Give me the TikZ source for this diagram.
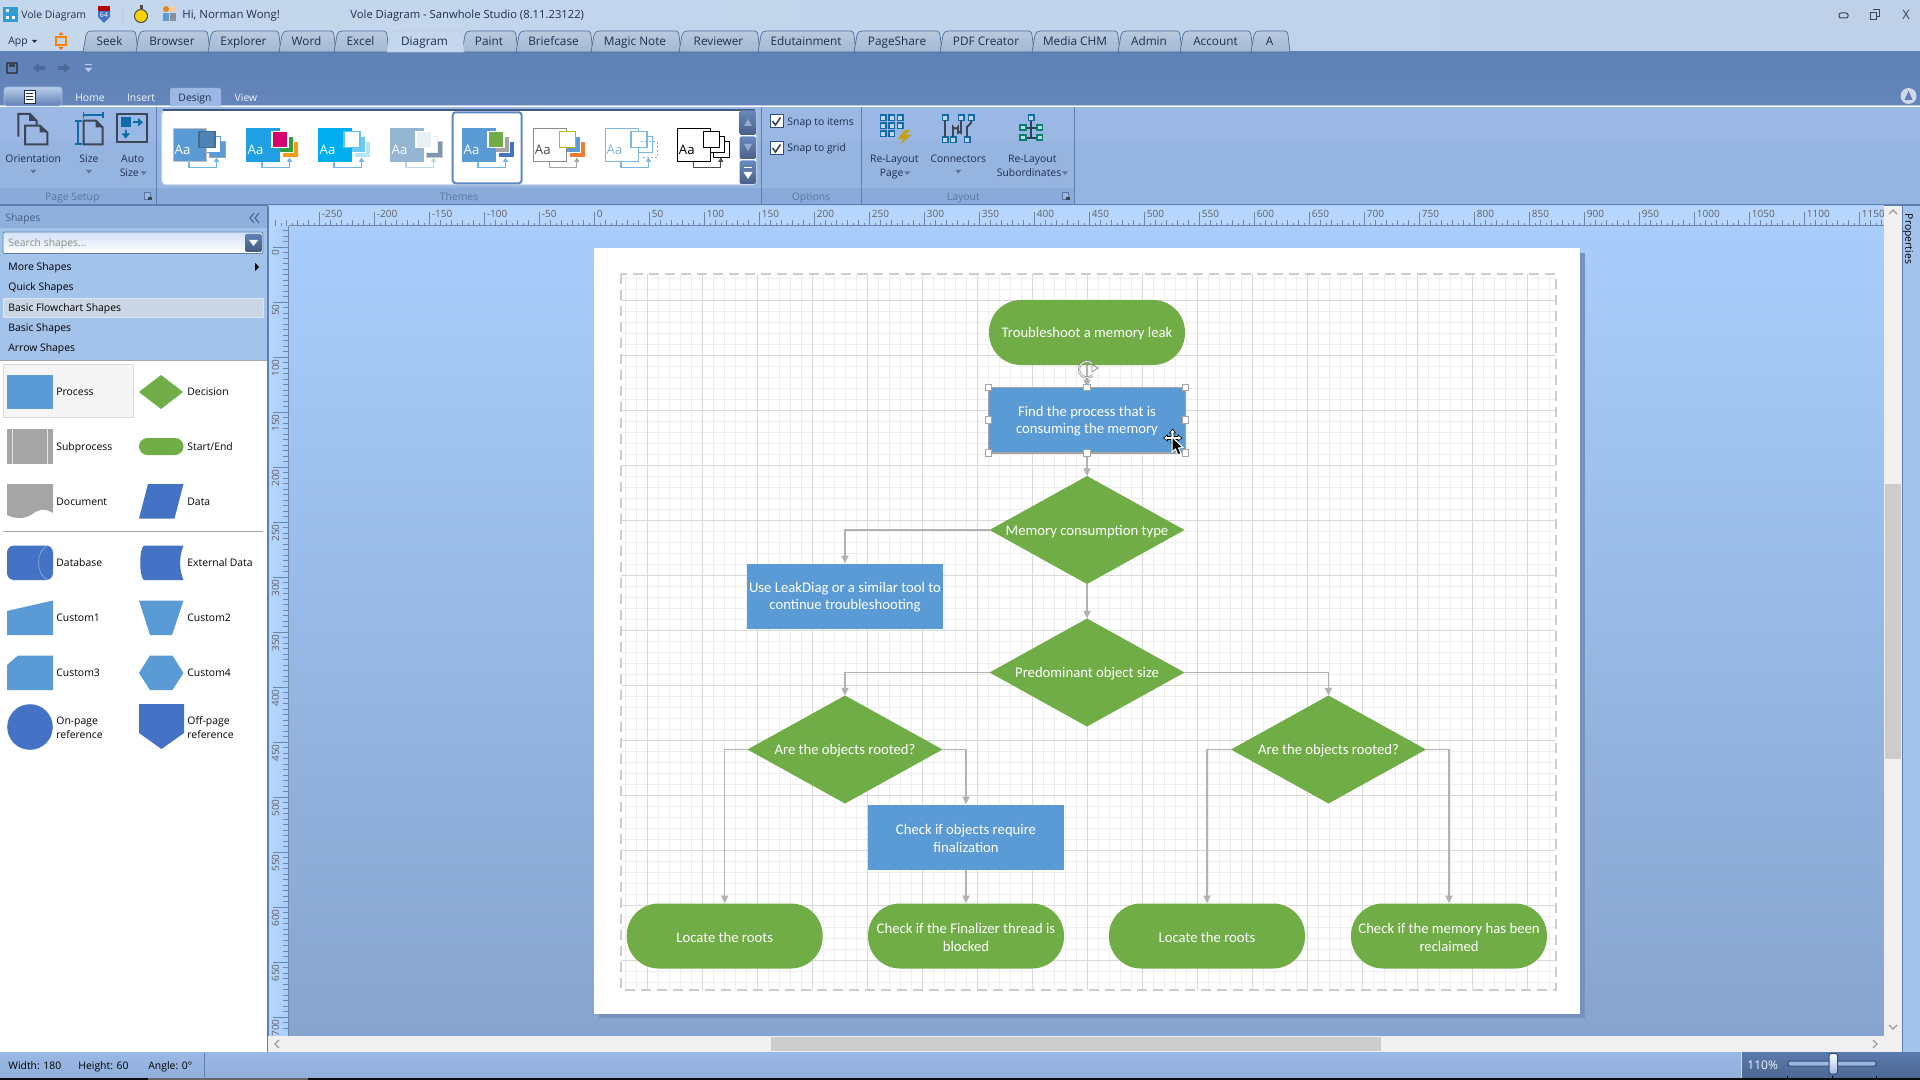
\documentclass[tikz,border=0pt]{standalone}
\usepackage{fontspec}
\setmainfont{Open Sans}
\newfontfamily\canvasfont{Carlito}
\usetikzlibrary{arrows.meta,calc}
\definecolor{cproc}{HTML}{5B9BD5}
\definecolor{cgreen}{HTML}{70AD47}
\definecolor{cgray}{HTML}{A5A5A5}
\definecolor{cdblue}{HTML}{4472C4}
\definecolor{cband}{HTML}{5F81B6}
\definecolor{crib}{HTML}{9AB8E3}
\definecolor{cribl}{HTML}{8FAFDD}
\definecolor{cpanel}{HTML}{A3C3EB}
\definecolor{cnavy}{HTML}{1F2F50}
\definecolor{clabel}{HTML}{5A76A0}
\definecolor{cline}{HTML}{5E7FB2}
\definecolor{cicon}{HTML}{3C4656}
\definecolor{cicblue}{HTML}{0F6CA8}
\definecolor{cicteal}{HTML}{0B7F6E}
\definecolor{ctab}{HTML}{A2B8D4}
\definecolor{ctitlel}{HTML}{C5D7ED}
\definecolor{ctitler}{HTML}{BED1E9}
\definecolor{ccanvt}{HTML}{AACEFC}
\definecolor{ccanvb}{HTML}{86A4CE}
\definecolor{crulb}{HTML}{B6D6FE}
\definecolor{crult}{HTML}{6F86A8}
\tikzset{
  uilabel/.style={inner sep=0pt,text=cnavy,font=\fontsize{5.2}{6.2}\selectfont,text height=4.4pt,text depth=0.8pt},
  uileft/.style={uilabel,anchor=west},
  tablabel/.style={inner sep=0pt,text=cnavy,font=\fontsize{5.9}{7}\selectfont,text height=4.7pt,text depth=1.1pt},
  grouplabel/.style={inner sep=0pt,text=clabel,font=\fontsize{5.2}{6.2}\selectfont,text height=4.4pt,text depth=0.8pt},
  shapelabel/.style={inner sep=0pt,anchor=west,text=black,font=\fontsize{5.2}{6.8}\selectfont,text height=4.4pt,text depth=0.8pt},
  shapetwo/.style={inner sep=0pt,anchor=west,align=left,text=black,font=\fontsize{5.2}{6.8}\selectfont},
  flowtext/.style={inner sep=0pt,minimum width=98pt,minimum height=32.5pt},
  termbox/.style={flowtext,fill=cgreen,rounded corners=16pt},
  procbox/.style={flowtext,fill=cproc},
  fltext/.style={text=white,font=\canvasfont\fontsize{7.35}{8.85}\selectfont,align=center,inner sep=0pt},
  flowline/.style={draw=black!30,line width=0.6pt,-{Triangle[length=3.8pt,width=3.6pt]}},
  handle/.style={draw=cgray,fill=white,line width=0.4pt,minimum size=3.2pt,inner sep=0pt},
  minorgrid/.style={draw=black!6.5,line width=0.5pt},
  majorgrid/.style={draw=black!15,line width=0.5pt},
  rulertick/.style={draw=crult,line width=0.4pt},
  rulertext/.style={inner sep=0pt,text=black!62,font=\fontsize{5}{6}\selectfont},
  tabshape/.style={draw=black!15!cline,line width=0.35pt,top color=ctab!75!white,bottom color=ctab},
}
\newcommand\decisionpath[3]{% name, cx, cy
  \fill[cgreen] (#2-97.5,#3) -- (#2,#3-54) -- (#2+97.5,#3) -- (#2,#3+54) -- cycle;
}
\newcommand\flownode[5]{% style,name,x,y,text
  \node[#1] (#2) at (#3,#4) {};
  \node[fltext] (#2t) at ([yshift=-0.6pt]#2.center) {#5};
}
\newcommand\themeicon[9]{%
  \draw[fill=#7,draw=#8,line width=0.5pt] (36,142) rectangle (52,157.7);
  \draw[fill=#5,draw=#6,line width=0.5pt] (30,137) rectangle (47,152.7);
  \draw[#9,line width=0.6pt] (16,162) -- (16,167.5) -- (43.5,167.5) -- (43.5,161);
  \fill[#9] (43.5,157.5) -- (40.8,162) -- (46.2,162) -- cycle;
  \draw[fill=#1,draw=#2,line width=0.6pt] (0.3,128.3) rectangle (33.5,161.7);
  \draw[fill=#3,draw=#4,line width=0.6pt] (26,131.7) rectangle (42,147.7);
  \node[inner sep=0pt,text=\aac,font=\fontsize{6.6}{8}\selectfont,text height=4.7pt,text depth=0pt] at (9.5,150) {Aa};
}
\newcommand\tabitem[4]{% name,x0,x1,text
  \draw[tabshape] (#2,52) -- (#2+3,35) to[out=80,in=180] (#2+8,31) -- (#3-3,31) to[out=0,in=100] (#3,35) -- (#3+2,52) -- cycle;
  \node[tablabel] (#1) at ({(#2+#3)/2},41.5) {#4};
}
\begin{document}
\begin{tikzpicture}[x=0.5pt,y=-0.5pt]
\useasboundingbox (0,0) rectangle (1920,1080);
% ---- window chrome
\shade[left color=ctitlel,right color=ctitler] (0,0) rectangle (1920,52);
\shade[top color=cband,bottom color=cband!92!crib] (0,52) rectangle (1920,106);
\draw[white!60!cband,line width=0.5pt] (0,106) -- (1920,106);
\fill[crib] (0,107) rectangle (1920,141);
\fill[crib!92!cline] (0,141) rectangle (1920,205);
\fill[cribl!90!cline] (0,188.3) rectangle (1074.5,205);
\draw[cline,line width=0.6pt] (0,205) -- (1920,205);
% title row
\fill[cdblue!70!cyan] (3,7) rectangle (18,22);
\fill[white] (6,9) rectangle (9,12); \fill[white] (12,16) rectangle (15,19); \fill[white] (6,16) rectangle (9,19);
\node[uileft] (appname) at (21,15) {Vole Diagram};
\fill[red!70!black] (98,6) rectangle (110,11);
\fill[cdblue] (98,11) -- (110,11) -- (110,17) -- (104,23) -- (98,17) -- cycle;
\node[inner sep=0pt,text=white,font=\fontsize{3.5}{4}\selectfont] (sh64) at (104,15) {64};
\draw[white!60!cline,line width=0.5pt] (122,5) -- (122,26);
\draw[black!70,fill=yellow!70!orange,line width=0.5pt] (141,16) circle (6.5);
\fill[black!70] (139.5,5) rectangle (142.5,9);
\fill[orange!70!brown] (166,9) circle (3); \fill[cproc] (163,13) rectangle (169,21);
\fill[orange!40!white] (173,9) circle (3); \fill[cicon!60!white] (170,13) rectangle (176,21);
\node[uileft,font=\fontsize{5.7}{7}\selectfont] (greet) at (182,14.5) {Hi, Norman Wong!};
\node[uileft,font=\fontsize{5.62}{7}\selectfont] (title) at (350,14.5) {Vole Diagram - Sanwhole Studio (8.11.23122)};
\draw[cicon,line width=0.5pt,rounded corners=1pt] (1839,13) rectangle (1848,18);
\draw[cicon,line width=0.5pt] (1870,13) rectangle (1876,20); \draw[cicon,line width=0.5pt] (1873,10) -- (1879,10) -- (1879,17) -- (1876,17);
\node[inner sep=0pt,text=cicon,font=\fontsize{6.5}{7}\selectfont] (closex) at (1906,15) {X};
% tabs
\node[uileft] (appbtn) at (8,41) {App};
\fill[cnavy] (32,40) -- (37,40) -- (34.5,43) -- cycle;
\draw[orange,line width=0.7pt] (56,37) rectangle (66,45);
\fill[orange!80!red] (61,32) -- (58.5,35) -- (63.5,35) -- cycle;
\fill[orange!80!red] (61,50) -- (58.5,47) -- (63.5,47) -- cycle;
\tabitem{t1}{83}{136}{Seek}
\tabitem{t2}{136}{208}{Browser}
\tabitem{t3}{208}{279}{Explorer}
\tabitem{t4}{279}{334}{Word}
\tabitem{t5}{334}{387}{Excel}
\tabitem{t7}{462}{516}{Paint}
\tabitem{t8}{516}{591}{Briefcase}
\tabitem{t9}{591}{679}{Magic Note}
\tabitem{t10}{679}{758}{Reviewer}
\tabitem{t11}{758}{854}{Edutainment}
\tabitem{t12}{854}{940}{PageShare}
\tabitem{t13}{940}{1032}{PDF Creator}
\tabitem{t14}{1032}{1118}{Media CHM}
\tabitem{t15}{1118}{1180}{Admin}
\tabitem{t16}{1180}{1251}{Account}
\tabitem{t17}{1251}{1288}{A}
\begin{scope}[tabshape/.style={draw=white!60!cline,line width=0.35pt,fill=ctitlel}]
\tabitem{t6}{387}{462}{Diagram}
\end{scope}
% quick access
\draw[cicon,line width=0.8pt] (7,63) rectangle (17,73); \fill[cicon] (9,63) rectangle (15,67);
\fill[cband!70!cnavy] (33,68) -- (39,63) -- (39,66) -- (45,66) -- (45,70) -- (39,70) -- (39,73) -- cycle;
\fill[cband!70!cnavy] (70,68) -- (64,63) -- (64,66) -- (58,66) -- (58,70) -- (64,70) -- (64,73) -- cycle;
\draw[crib!70!white,line width=0.5pt] (85,65) -- (92,65); \fill[crib!70!white] (85,68) -- (92,68) -- (88.5,72) -- cycle;
% ribbon tabs
\shade[top color=crib!70!white,bottom color=cband,rounded corners=1.5pt,draw=crib] (4,87) rectangle (62,106);
\draw[cnavy,fill=white,line width=0.4pt] (24,90) rectangle (35,103);
\draw[cnavy,line width=0.4pt] (26,93) -- (33,93) (26,96) -- (33,96) (26,99) -- (33,99);
\node[uilabel,text=white!85!crib] (rhome) at (90,97.5) {Home};
\node[uilabel,text=white!85!crib] (rinsert) at (141,97.5) {Insert};
\fill[crib] (170,106.5) -- (170,90) to[out=90,in=180] (172,88) -- (219,88) to[out=0,in=90] (221,90) -- (221,106.5) -- cycle;
\node[uilabel] (rdesign) at (195,97.5) {Design};
\node[uilabel,text=white!85!crib] (rview) at (246,97.5) {View};
\fill[white!70!cband] (1908.5,96) circle (8); \fill[cband] (1908.5,91) -- (1904.5,100) -- (1912.5,100) -- cycle;
% ribbon separators
\foreach \x in {156.7,761,861,1074.5} \draw[cline,line width=0.5pt] (\x,107) -- (\x,205);
% page setup
\draw[cicon,line width=1pt] (18.3,136.7) -- (18.3,114) -- (30,114) -- (36.7,121) -- (36.7,125);
\fill[cicon] (29,114) -- (36.7,121) -- (29,121) -- cycle;
\draw[cicon,line width=1pt,fill=crib] (25,125.7) -- (40,125.7) -- (47.3,132.5) -- (47.3,144.3) -- (25,144.3) -- cycle;
\fill[cicon] (39.5,125.7) -- (47.3,132.5) -- (39.5,132.5) -- cycle;
\draw[cicon,line width=1pt] (83.5,120.7) -- (96,120.7) -- (102.7,127.5) -- (102.7,144.3) -- (83.5,144.3) -- cycle;
\fill[cicon] (95.5,120.7) -- (102.7,127.5) -- (95.5,127.5) -- cycle;
\draw[cicblue,line width=0.9pt] (83.5,115) -- (102.7,115) (83.5,112) -- (83.5,118) (102.7,112) -- (102.7,118);
\draw[cicblue,line width=0.9pt] (78.3,120.7) -- (78.3,144.3) (75,120.7) -- (81.5,120.7) (75,144.3) -- (81.5,144.3);
\draw[cicon,line width=1.1pt] (117.3,114) rectangle (146.7,141.7);
\fill[cicblue] (121,117.3) rectangle (131,127.3);
\draw[cicblue,line width=0.8pt] (133,122.3) -- (139,122.3); \fill[cicblue] (138,118) -- (143,122.3) -- (138,126.5) -- cycle;
\draw[cicblue,line width=0.8pt] (125.7,130) -- (125.7,134); \fill[cicblue] (121.5,133.5) -- (130,133.5) -- (125.7,138.5) -- cycle;
\node[uilabel] (lorient) at (33.3,159) {Orientation};
\fill[clabel] (30.3,170) -- (36.3,170) -- (33.3,173.5) -- cycle;
\node[uilabel] (lsize) at (89,159) {Size};
\fill[clabel] (86,170) -- (92,170) -- (89,173.5) -- cycle;
\node[uilabel] (lauto) at (132.7,159) {Auto};
\node[uilabel] (lauto2) at (129.3,173) {Size};
\fill[clabel] (140.7,171.5) -- (146.7,171.5) -- (143.7,175) -- cycle;
\node[grouplabel] (gpage) at (72.3,196.5) {Page Setup};
\draw[clabel,line width=0.35pt,fill=crib] (144,192.5) rectangle (150,199);
\fill[cicon] (148,197) -- (151.5,197) -- (151.5,200.5) -- (148,200.5) -- cycle;
% themes gallery
\draw[white!60!cline,fill=white,rounded corners=2pt,line width=0.5pt] (161.7,110) rectangle (756.7,185);
\draw[cline!70!black,line width=0.6pt] (163,110) -- (755,110);
\definecolor{cta}{HTML}{1FA0E3}\definecolor{ctb}{HTML}{D6006E}\definecolor{ctc}{HTML}{2E9E3F}\definecolor{ctd}{HTML}{F39C12}
\definecolor{cte}{HTML}{00ADEF}\definecolor{ctf}{HTML}{5CC4EF}\definecolor{ctg}{HTML}{6CCBF2}\definecolor{cth}{HTML}{B5E5F8}
\definecolor{cti}{HTML}{95B6D3}\definecolor{ctj}{HTML}{E8EFF5}\definecolor{ctk}{HTML}{7C96B2}\definecolor{ctl}{HTML}{BDD3E6}
\definecolor{ctm}{HTML}{7FB6E0}\definecolor{ctn}{HTML}{C4B400}\definecolor{cto}{HTML}{ED7D31}\definecolor{ctp}{HTML}{6EB7EA}
\def\aac{white}
\begin{scope}[shift={(173,0)}]\themeicon{cproc}{cgray!70}{cproc!85!black}{cproc!70!black}{white}{cproc}{cproc}{cgray}{ctp}\end{scope}
\begin{scope}[shift={(246,0)}]\themeicon{cta}{cta}{ctb}{white}{ctc}{white}{ctd}{white}{ctp}\end{scope}
\begin{scope}[shift={(318,0)}]\themeicon{cte}{cte}{white}{ctf}{ctg}{white}{cth}{white}{ctp}\end{scope}
\begin{scope}[shift={(390,0)}]\themeicon{cti}{cti}{ctj}{white}{white}{ctj}{ctk}{cgray!60}{ctl}\end{scope}
\begin{scope}[shift={(462,0)}]\themeicon{cproc}{cproc}{cgreen}{white}{cgray}{white}{cdblue}{white}{ctp}\end{scope}
\def\aac{black!70}
\begin{scope}[shift={(533.3,0)}]\themeicon{white}{black!45}{white}{ctn}{cproc}{white}{cto}{white}{cgray}\end{scope}
\def\aac{ctm}
\begin{scope}[shift={(605,0)}]\themeicon{white}{ctm}{white}{ctm}{white}{ctm}{white}{white}{ctm}\end{scope}
\draw[ctm,dash pattern=on 1pt off 1pt,line width=0.5pt] (641,142) -- (657,142) -- (657,157.7) -- (641,157.7);
\def\aac{black}
\begin{scope}[shift={(677.3,0)}]\themeicon{white}{black}{white}{black}{white}{black}{white}{black}{black!70}\end{scope}
\definecolor{ctsel}{HTML}{5F86C6}
\draw[ctsel,line width=1pt,rounded corners=1.5pt] (452.7,112.3) rectangle (521.7,183.3);
\foreach \a/\b in {110.5/135,136.5/159,160.5/184} \shade[top color=cband!85!crib,bottom color=cband!75!black,rounded corners=1pt] (739.5,\a) rectangle (756,\b);
\fill[white!35!cband] (748,119) -- (744,126) -- (752,126) -- cycle;
\fill[white!35!cband] (748,151) -- (744,144) -- (752,144) -- cycle;
\draw[white,line width=0.5pt] (744,168) -- (752,168); \fill[white] (743.5,172) -- (752.5,172) -- (748,179) -- cycle;
\node[grouplabel] (gthemes) at (459,196.5) {Themes};
% options
\foreach \y in {115,142} {
  \draw[cdblue!70!black,fill=white,line width=0.5pt] (770,\y) rectangle (783,\y+13);
  \draw[cicon,line width=0.8pt] (772.5,\y+6) -- (775.5,\y+10) -- (780.5,\y+2.5);
}
\node[uileft] (snap1) at (787,122) {Snap to items};
\node[uileft] (snap2) at (787,148) {Snap to grid};
\node[grouplabel] (gopt) at (811,196.5) {Options};
% layout
\foreach \p in {(883.3,117.7),(891.7,117.7),(900,117.7),(883.3,125.7),(891.7,125.7),(900,125.7),(883.3,134),(891.7,134),
  (945,117.7),(961,117.7),(971,117.7),(945,139.7),(953,139.7),(967,139.7)}
  \draw[cicblue,line width=0.8pt,fill=crib!60!white] \p +(-2.7,-2.7) rectangle +(2.7,2.7);
\definecolor{cbolt}{HTML}{C9A010}
\fill[cbolt] (905,130) -- (897.5,139) -- (903,139) -- (900,144.5) -- (911.5,135) -- (905.5,135) -- (910,130) -- cycle;
\node[uilabel] (lrl1) at (894.3,159) {Re-Layout};
\node[uilabel] (lrl2) at (891.7,173) {Page};
\fill[clabel] (904.3,171.5) -- (910.3,171.5) -- (907.3,175) -- cycle;
\draw[cicon,line width=0.9pt] (945,120.5) -- (945,137);
\draw[cicon,line width=0.9pt] (953,137) -- (953,127) to[out=-90,in=-90] (958,127) -- (958,133) to[out=90,in=90] (961,133) -- (961,120.5);
\draw[cicon,line width=0.9pt] (967,137) -- (967,127) -- (971,123) -- (971,120.5);
\node[uilabel] (lcon) at (958.3,159) {Connectors};
\fill[clabel] (955.3,170) -- (961.3,170) -- (958.3,173.5) -- cycle;
\draw[black!50!cline,line width=1pt] (1031.3,120) -- (1031.3,137.7) (1025,127.7) -- (1038,127.7) (1025,137.7) -- (1038,137.7);
\draw[cicblue,line width=0.8pt,fill=crib!60!white] (1028.6,115) rectangle (1034,120.4);
\foreach \x in {1023,1039.7} \foreach \y in {127.7,137.7} \draw[cicteal,line width=0.9pt,fill=crib!60!white] (\x,\y) +(-2.7,-2.7) rectangle +(2.7,2.7);
\node[uilabel] (lsub1) at (1032.3,159) {Re-Layout};
\node[uilabel] (lsub2) at (1029,173) {Subordinates};
\fill[clabel] (1062,171.5) -- (1068,171.5) -- (1065,175) -- cycle;
\node[grouplabel] (glay) at (963.3,196.5) {Layout};
\draw[clabel,line width=0.35pt,fill=crib] (1062,192.5) rectangle (1068,199);
\fill[cicon] (1066,197) -- (1069.5,197) -- (1069.5,200.5) -- (1066,200.5) -- cycle;
% ---- canvas backdrop
\shade[top color=ccanvt,bottom color=ccanvb] (268,206) rectangle (1884,1036);
\shade[left color=crulb,right color=ccanvt] (268,226) rectangle (288.5,1036);
\fill[crulb] (268,206) rectangle (1884,226);
\draw[crult,line width=0.5pt] (288.5,226) -- (1884,226);
\draw[crult,line width=0.5pt] (288.5,226) -- (288.5,1036);
% rulers
\foreach \u in {-290,-285,...,1175} \draw[rulertick] ({594.5+1.1*\u},223) -- ({594.5+1.1*\u},226);
\foreach \u in {-290,-280,...,1170} \draw[rulertick] ({594.5+1.1*\u},220.5) -- ({594.5+1.1*\u},226);
\foreach \u in {-250,-200,...,1150} {
  \draw[rulertick] ({594.5+1.1*\u},212) -- ({594.5+1.1*\u},226);
  \node[rulertext,anchor=west] (hr\u) at ({594.5+1.1*\u+2},214) {\u};
}
\foreach \u in {-15,-10,...,710} \draw[rulertick] (283,{247+1.1*\u}) -- (288.5,{247+1.1*\u});
\foreach \u in {0,50,...,700} {
  \draw[rulertick] (273,{247+1.1*\u}) -- (288.5,{247+1.1*\u});
  \node[rulertext,rotate=90,anchor=east] (vr\u) at (275.5,{249+1.1*\u}) {\u};
}
% page
\fill[cline!85!white] (599,253) rectangle (1585,1018);
\fill[white] (594,248.5) rectangle (1580,1014);
% grid
\foreach \x in {625.3,636.3,...,1556} \draw[minorgrid] (\x,274) -- (\x,990);
\foreach \y in {278.3,289.3,...,990} \draw[minorgrid] (621,\y) -- (1556,\y);
\foreach \x in {647.3,702.3,...,1556} \draw[majorgrid] (\x,274) -- (\x,990);
\foreach \y in {300.3,355.3,...,990} \draw[majorgrid] (621,\y) -- (1556,\y);
\draw[black!20,line width=0.6pt,dash pattern=on 5pt off 3pt] (621,274) rectangle (1556,990);
% ---- flowchart nodes
\flownode{termbox}{nstart}{1087}{332.5}{Troubleshoot a memory leak}
\flownode{procbox}{nfind}{1087}{420}{Find the process that is\\consuming the memory}
\decisionpath{d1}{1087}{530}
\node[fltext] (nmem) at (1087,531.3) {Memory consumption type};
\coordinate (d1w) at (989.5,530); \coordinate (d1s) at (1087,584); \coordinate (d1n) at (1087,476);
\flownode{procbox}{nleak}{845}{596}{Use LeakDiag or a similar tool to\\continue troubleshooting}
\decisionpath{d2}{1087}{672.5}
\node[fltext] (npred) at (1087,673.8) {Predominant object size};
\coordinate (d2w) at (989.5,672.5); \coordinate (d2e) at (1184.5,672.5); \coordinate (d2n) at (1087,618.5);
\decisionpath{dl}{845}{749.5}
\node[fltext] (nrootl) at (845,750.8) {Are the objects rooted?};
\coordinate (dlw) at (747.5,749.5); \coordinate (dle) at (942.5,749.5); \coordinate (dln) at (845,695.5);
\decisionpath{dr}{1328.5}{749.5}
\node[fltext] (nrootr) at (1328.5,750.8) {Are the objects rooted?};
\coordinate (drw) at (1231,749.5); \coordinate (dre) at (1426,749.5); \coordinate (drn) at (1328.5,695.5);
\flownode{procbox}{ncheck}{966}{837}{Check if objects require\\finalization}
\flownode{termbox}{nt1}{724.7}{936}{Locate the roots}
\flownode{termbox}{nt2}{966}{936}{Check if the Finalizer thread is\\blocked}
\flownode{termbox}{nt3}{1207}{936}{Locate the roots}
\flownode{termbox}{nt4}{1449}{936}{Check if the memory has been\\reclaimed}
% connectors
\draw[flowline] (nstart) -- (nfind);
\draw[flowline] (nfind) -- (d1n);
\draw[flowline] (d1s) -- (d2n);
\draw[flowline] (d1w) -| (nleak);
\draw[flowline] (d2w) -| (dln);
\draw[flowline] (d2e) -| (drn);
\draw[flowline] (dlw) -| (nt1);
\draw[flowline] (dle) -| (ncheck);
\draw[flowline] (ncheck) -- (nt2);
\draw[flowline] (drw) -| (nt3);
\draw[flowline] (dre) -| (nt4);
% selection
\draw[cgray,line width=0.6pt] (nfind.north west) rectangle (nfind.south east);
\foreach \a in {north west,north,north east,west,east,south west,south,south east}
  \node[handle] (hd\a) at (nfind.\a) {};
\draw[black!45,line width=1.1pt] (1092.1,363.4) arc[start angle=-50,end angle=-315,radius=8];
\draw[white,line width=0.4pt] (1092.1,363.4) arc[start angle=-50,end angle=-315,radius=8];
\draw[black!45,fill=white,line width=0.4pt] (1092,364.5) -- (1098,368) -- (1092,372) -- cycle;
% cursor
\draw[black,fill=white,line width=0.3pt] (1172.5,429) -- (1169.5,433) -- (1171,433) -- (1171,436.5) -- (1167.5,436.5) -- (1167.5,435) -- (1163.5,438) -- (1167.5,441) -- (1167.5,439.5) -- (1171,439.5) -- (1171,443) -- (1174,443) -- (1174,439.5) -- (1178,439.5) -- (1178,441) -- (1182,438) -- (1178,435) -- (1178,436.5) -- (1174,436.5) -- (1174,433) -- (1175.5,433) -- cycle;
\draw[white,fill=black,line width=0.5pt] (1172,437) -- (1172,452) -- (1175.5,449) -- (1178,455) -- (1181,453.5) -- (1178.5,448) -- (1183,447.5) -- cycle;
% ---- shapes panel
\fill[cribl] (0,206) rectangle (268,228);
\fill[cpanel] (0,228) rectangle (268,360);
\fill[white] (0,360) rectangle (268,1052);
\draw[black!35,line width=0.4pt] (0,360) -- (268,360);
\draw[cline,line width=0.6pt] (268,206) -- (268,1052);
\node[uileft,text=clabel!80!black] (pshapes) at (5,218) {Shapes};
\draw[clabel!90!black,line width=0.6pt] (254,213) -- (250,218) -- (254,223) (259,213) -- (255,218) -- (259,223);
\shade[top color=cpanel!50!white,bottom color=white,draw=cline,line width=0.4pt,rounded corners=1pt] (3,232) rectangle (263,253.5);
\node[uileft,text=black!45] (psearch) at (8,243) {Search shapes...};
\shade[top color=cband,bottom color=cband!70!black,rounded corners=1pt] (245,234) rectangle (262,252);
\fill[white] (249,240) -- (258,240) -- (253.5,246) -- cycle;
\node[uileft,text=black] (pmore) at (8,267) {More Shapes};
\fill[black] (255,263) -- (255,271) -- (259,267) -- cycle;
\node[uileft,text=black] (pquick) at (8,287) {Quick Shapes};
\draw[white!60!cpanel,fill=cpanel!70!gray!50!white,line width=0.4pt] (3,298) rectangle (263,317);
\node[uileft,text=black] (pbasicf) at (8,308) {Basic Flowchart Shapes};
\node[uileft,text=black] (pbasic) at (8,328) {Basic Shapes};
\node[uileft,text=black] (parrow) at (8,348) {Arrow Shapes};
\draw[black!15,fill=black!4,line width=0.4pt] (3,364) rectangle (133,417);
% row 1
\fill[cproc] (7,375) rectangle (53,409);
\node[shapelabel] (sproc) at (56,392) {Process};
\fill[cgreen] (139,392) -- (161,375) -- (183,392) -- (161,409) -- cycle;
\node[shapelabel] (sdec) at (187,392) {Decision};
% row 2
\fill[cgray] (7,429) rectangle (53,464);
\draw[white!70!cgray,line width=0.4pt] (12.5,429) -- (12.5,464) (47.5,429) -- (47.5,464);
\node[shapelabel] (ssub) at (56,447) {Subprocess};
\fill[cgreen,rounded corners=4.2pt] (139,438) rectangle (183.5,455);
\node[shapelabel] (sstart) at (187,447) {Start/End};
% row 3
\fill[cgray] (7,484) -- (53,484) -- (53,513) .. controls (43,507) and (38,510) .. (31,515) .. controls (24,519) and (15,519) .. (7,515) -- cycle;
\node[shapelabel] (sdoc) at (56,502) {Document};
\fill[cdblue] (148,484) -- (183.5,484) -- (174.5,518.5) -- (139,518.5) -- cycle;
\node[shapelabel] (sdata) at (187,502) {Data};
\draw[black!35,line width=0.5pt] (3,531.5) -- (263,531.5);
% row 4
\fill[cdblue,rounded corners=3.5pt] (7,545.5) rectangle (53,580);
\draw[white!40!cdblue,line width=0.35pt] (48,545.5) to[out=200,in=160] (48,580);
\node[shapelabel] (sdb) at (56,563) {Database};
\fill[cdblue] (144,545.5) -- (183.5,545.5) .. controls (179,556) and (179,570) .. (183.5,580) -- (144,580) .. controls (139,578) and (139,548) .. (144,545.5) -- cycle;
\node[shapelabel] (sext) at (187,563) {External Data};
% row 5
\fill[cproc] (7,611) -- (53,600.5) -- (53,635) -- (7,635) -- cycle;
\node[shapelabel] (sc1) at (56,618) {Custom1};
\fill[cproc] (139,600.5) -- (183.5,600.5) -- (172,635) -- (150,635) -- cycle;
\node[shapelabel] (sc2) at (187,618) {Custom2};
% row 6
\fill[cproc] (18,655.5) -- (53,655.5) -- (53,690) -- (7,690) -- (7,665) -- cycle;
\node[shapelabel] (sc3) at (56,673) {Custom3};
\fill[cproc] (150,655.5) -- (172.5,655.5) -- (183.5,673) -- (172.5,690) -- (150,690) -- (139,673) -- cycle;
\node[shapelabel] (sc4) at (187,673) {Custom4};
% row 7
\fill[cdblue] (30,727) circle (22.8);
\node[shapetwo] (son) at (56,727.5) {On-page\\reference};
\fill[cdblue] (139,704) -- (184,704) -- (184,733) -- (161.5,749) -- (139,733) -- cycle;
\node[shapetwo] (soff) at (187,727.5) {Off-page\\reference};
% ---- scrollbars
\fill[black!6] (268,1036) rectangle (1902,1052);
\fill[black!6] (1884,206) rectangle (1902,1052);
\fill[black!20] (771,1037) rectangle (1381,1051);
\fill[black!20] (1885,484) rectangle (1901,759);
\draw[black!40,line width=0.6pt] (279,1040) -- (275,1044) -- (279,1048);
\draw[black!40,line width=0.6pt] (1873,1040) -- (1877,1044) -- (1873,1048);
\draw[black!40,line width=0.6pt] (1889,1025) -- (1893,1029) -- (1897,1025);
\draw[black!40,line width=0.6pt] (1889,214) -- (1893,210) -- (1897,214);
\fill[cpanel] (1902,206) rectangle (1920,1052);
\draw[cline,line width=0.5pt] (1902,206) -- (1902,1052);
\node[uilabel,rotate=-90,text=black] (pprops) at (1909,239) {Properties};
% ---- status bar
\shade[top color=crib,bottom color=crib!85!cline] (0,1052) rectangle (1741,1078);
\shade[top color=cband!95!black,bottom color=cband!80!black] (1741,1052) rectangle (1920,1078);
\draw[white!70!cband,line width=0.5pt] (1741,1052) -- (1741,1078);
\draw[cline,line width=0.5pt] (204,1053) -- (204,1077);
\node[uileft,text=black] (swidth) at (8,1066) {Width: 180};
\node[uileft,text=black] (sheight) at (78,1066) {Height: 60};
\node[uileft,text=black] (sangle) at (148,1066) {Angle: 0°};
\node[uileft,text=white!85!crib,font=\fontsize{6}{7}\selectfont] (szoom) at (1747,1066) {110\%};
\draw[cband!60!black,fill=crib,rounded corners=1pt,line width=0.5pt] (1788,1061) rectangle (1876,1066);
\shade[top color=white,bottom color=crib,draw=cnavy!70!cband,rounded corners=1pt,line width=0.5pt] (1829,1053.5) rectangle (1837.5,1074);
\fill[black!90!cband] (0,1078) rectangle (1920,1080);
\fill[black!60] (148,1078) rectangle (308,1080);
\foreach \x in {1787,1832,1876} \draw[black,line width=0.4pt] (\x,1076) -- (\x,1078);
\end{tikzpicture}
\end{document}
